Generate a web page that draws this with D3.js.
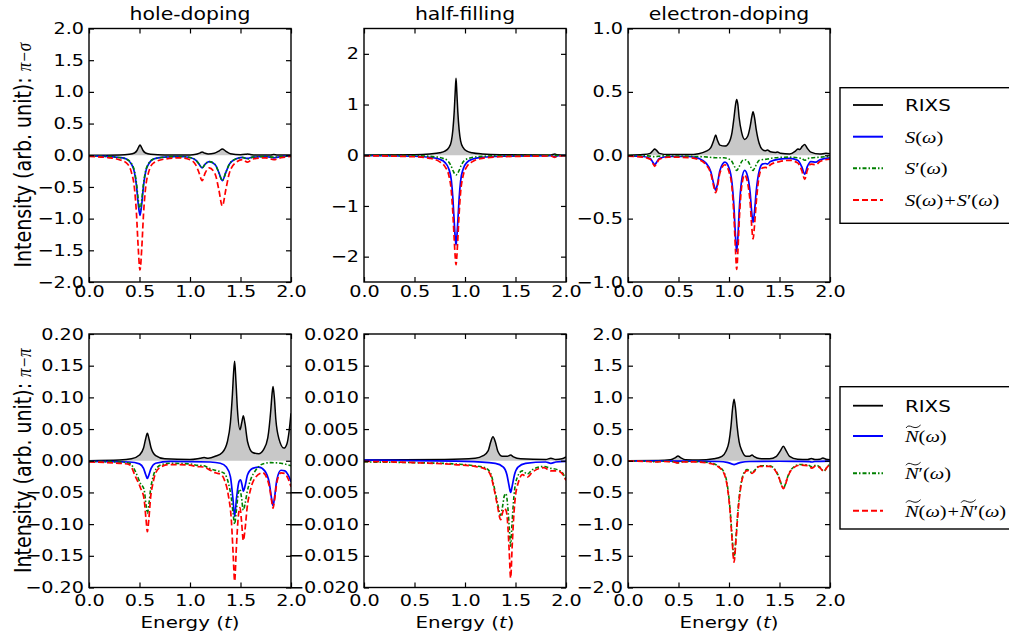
<!DOCTYPE html>
<html>
<head>
<meta charset="utf-8">
<script src="https://cdn.jsdelivr.net/npm/d3@7"></script>
<style>
body { margin: 0; background: #fff; }
</style>
</head>
<body>
<div id="chart"></div>
<script>
// ---- data ([energy, intensity]) ----
// pi-sigma, hole doping
var psHoleRixs = [[0,0],[0.3,0.005],[0.4,0.015],[0.45,0.035],[0.475,0.075],[0.49,0.125],[0.505,0.16],[0.52,0.125],[0.535,0.075],[0.56,0.035],[0.61,0.015],[0.75,0.005],[1.0,0.005],[1.06,0.015],[1.1,0.038],[1.12,0.05],[1.14,0.038],[1.18,0.02],[1.24,0.03],[1.29,0.07],[1.32,0.10],[1.35,0.07],[1.4,0.025],[1.5,0.008],[1.55,0.015],[1.57,0.02],[1.59,0.015],[1.65,0.005],[1.8,0.005],[1.83,0.01],[1.86,0.005],[2,0.002]];
var psHoleS = [[0,-0.01],[0.2,-0.02],[0.3,-0.035],[0.37,-0.06],[0.42,-0.14],[0.45,-0.27],[0.47,-0.48],[0.487,-0.76],[0.505,-0.95],[0.523,-0.76],[0.54,-0.48],[0.56,-0.27],[0.59,-0.14],[0.64,-0.06],[0.75,-0.03],[0.9,-0.02],[1.0,-0.035],[1.06,-0.08],[1.09,-0.14],[1.12,-0.2],[1.15,-0.14],[1.19,-0.1],[1.25,-0.15],[1.285,-0.27],[1.32,-0.4],[1.355,-0.27],[1.39,-0.14],[1.45,-0.06],[1.52,-0.035],[1.57,-0.05],[1.62,-0.03],[1.75,-0.02],[1.83,-0.04],[1.9,-0.02],[2,-0.01]];
var psHoleSp = [[0,-0.01],[0.2,-0.02],[0.3,-0.035],[0.37,-0.06],[0.42,-0.13],[0.45,-0.25],[0.47,-0.44],[0.487,-0.69],[0.505,-0.86],[0.523,-0.69],[0.54,-0.44],[0.56,-0.25],[0.59,-0.13],[0.64,-0.06],[0.75,-0.03],[0.9,-0.02],[1.0,-0.035],[1.06,-0.08],[1.09,-0.14],[1.12,-0.2],[1.15,-0.14],[1.19,-0.1],[1.25,-0.15],[1.285,-0.27],[1.32,-0.4],[1.355,-0.27],[1.39,-0.14],[1.45,-0.06],[1.52,-0.035],[1.57,-0.06],[1.62,-0.03],[1.75,-0.02],[1.83,-0.03],[1.9,-0.02],[2,-0.01]];
var psHoleSum = [[0,-0.02],[0.2,-0.04],[0.3,-0.07],[0.37,-0.12],[0.42,-0.27],[0.45,-0.52],[0.47,-0.92],[0.487,-1.45],[0.505,-1.81],[0.523,-1.45],[0.54,-0.92],[0.56,-0.52],[0.59,-0.27],[0.64,-0.12],[0.75,-0.06],[0.9,-0.04],[1.0,-0.07],[1.06,-0.16],[1.09,-0.28],[1.12,-0.4],[1.15,-0.28],[1.19,-0.2],[1.25,-0.3],[1.285,-0.54],[1.32,-0.8],[1.355,-0.54],[1.39,-0.28],[1.45,-0.12],[1.52,-0.07],[1.57,-0.11],[1.62,-0.06],[1.75,-0.04],[1.83,-0.07],[1.9,-0.04],[2,-0.02]];
// pi-sigma, half filling
var psHalfRixs = [[0,0.003],[0.5,0.01],[0.65,0.025],[0.75,0.05],[0.8,0.08],[0.84,0.15],[0.865,0.28],[0.88,0.5],[0.893,0.85],[0.903,1.25],[0.911,1.52],[0.919,1.25],[0.929,0.85],[0.942,0.5],[0.957,0.28],[0.982,0.15],[1.02,0.08],[1.07,0.05],[1.17,0.025],[1.35,0.01],[1.85,0.005],[1.89,0.025],[1.91,0.01],[2,0.003]];
var psHalfS = [[0,-0.005],[0.5,-0.02],[0.65,-0.04],[0.75,-0.08],[0.8,-0.14],[0.84,-0.27],[0.865,-0.5],[0.88,-0.85],[0.893,-1.3],[0.903,-1.62],[0.911,-1.77],[0.919,-1.62],[0.929,-1.3],[0.942,-0.85],[0.957,-0.5],[0.982,-0.27],[1.02,-0.14],[1.07,-0.08],[1.17,-0.04],[1.35,-0.02],[1.85,-0.01],[1.89,-0.03],[1.92,-0.01],[2,-0.005]];
var psHalfSp = [[0,-0.005],[0.5,-0.01],[0.7,-0.03],[0.78,-0.06],[0.83,-0.11],[0.86,-0.2],[0.885,-0.32],[0.911,-0.39],[0.937,-0.32],[0.962,-0.2],[0.99,-0.11],[1.04,-0.06],[1.12,-0.03],[1.35,-0.01],[2,-0.005]];
var psHalfSum = [[0,-0.01],[0.5,-0.03],[0.65,-0.06],[0.75,-0.13],[0.8,-0.22],[0.84,-0.4],[0.865,-0.72],[0.88,-1.15],[0.893,-1.65],[0.903,-2.0],[0.911,-2.16],[0.919,-2.0],[0.929,-1.65],[0.942,-1.15],[0.957,-0.72],[0.982,-0.4],[1.02,-0.22],[1.07,-0.13],[1.17,-0.06],[1.35,-0.03],[1.85,-0.015],[1.89,-0.04],[1.92,-0.015],[2,-0.01]];
// pi-sigma, electron doping
var psElecRixs = [[0,0],[0.15,0.005],[0.22,0.015],[0.25,0.04],[0.264,0.05],[0.28,0.04],[0.31,0.015],[0.4,0.005],[0.6,0.005],[0.7,0.012],[0.77,0.03],[0.82,0.06],[0.85,0.12],[0.868,0.16],[0.885,0.12],[0.91,0.08],[0.96,0.072],[1.0,0.1],[1.03,0.18],[1.05,0.3],[1.065,0.4],[1.076,0.44],[1.088,0.4],[1.1,0.3],[1.125,0.18],[1.155,0.125],[1.185,0.15],[1.21,0.23],[1.225,0.3],[1.238,0.344],[1.252,0.3],[1.27,0.2],[1.3,0.09],[1.33,0.045],[1.36,0.035],[1.38,0.042],[1.41,0.028],[1.46,0.022],[1.48,0.026],[1.51,0.015],[1.6,0.01],[1.66,0.035],[1.683,0.05],[1.7,0.045],[1.725,0.07],[1.75,0.085],[1.775,0.055],[1.81,0.025],[1.9,0.01],[1.96,0.015],[2,0.012]];
var psElecS = [[0,-0.005],[0.15,-0.01],[0.22,-0.025],[0.25,-0.06],[0.264,-0.075],[0.28,-0.06],[0.31,-0.025],[0.4,-0.01],[0.6,-0.01],[0.7,-0.025],[0.77,-0.06],[0.82,-0.13],[0.85,-0.23],[0.868,-0.275],[0.885,-0.23],[0.91,-0.12],[0.96,-0.055],[1.0,-0.1],[1.03,-0.22],[1.05,-0.42],[1.065,-0.65],[1.076,-0.76],[1.088,-0.65],[1.1,-0.45],[1.125,-0.2],[1.155,-0.12],[1.185,-0.17],[1.21,-0.3],[1.225,-0.45],[1.238,-0.53],[1.252,-0.45],[1.27,-0.28],[1.3,-0.12],[1.33,-0.07],[1.36,-0.065],[1.38,-0.07],[1.41,-0.05],[1.5,-0.03],[1.6,-0.025],[1.68,-0.04],[1.72,-0.09],[1.75,-0.15],[1.775,-0.09],[1.81,-0.05],[1.86,-0.055],[1.9,-0.035],[2,-0.02]];
var psElecSp = [[0,-0.003],[0.2,-0.005],[0.264,-0.012],[0.33,-0.005],[0.6,-0.008],[0.8,-0.015],[0.868,-0.02],[0.95,-0.02],[1.02,-0.04],[1.055,-0.09],[1.076,-0.12],[1.1,-0.09],[1.135,-0.04],[1.155,-0.035],[1.19,-0.05],[1.22,-0.1],[1.238,-0.12],[1.26,-0.09],[1.3,-0.04],[1.38,-0.03],[1.45,-0.02],[1.6,-0.015],[1.72,-0.025],[1.75,-0.04],[1.78,-0.025],[1.9,-0.015],[2,-0.01]];
var psElecSum = [[0,-0.008],[0.15,-0.015],[0.22,-0.032],[0.25,-0.07],[0.264,-0.087],[0.28,-0.07],[0.31,-0.032],[0.4,-0.015],[0.6,-0.018],[0.7,-0.035],[0.77,-0.073],[0.82,-0.145],[0.85,-0.25],[0.868,-0.295],[0.885,-0.25],[0.91,-0.14],[0.96,-0.075],[1.0,-0.13],[1.03,-0.26],[1.05,-0.5],[1.065,-0.76],[1.076,-0.9],[1.088,-0.76],[1.1,-0.54],[1.125,-0.25],[1.155,-0.155],[1.185,-0.22],[1.21,-0.38],[1.225,-0.56],[1.238,-0.66],[1.252,-0.56],[1.27,-0.37],[1.3,-0.16],[1.33,-0.1],[1.36,-0.095],[1.38,-0.1],[1.41,-0.075],[1.5,-0.05],[1.6,-0.04],[1.68,-0.06],[1.72,-0.12],[1.75,-0.19],[1.775,-0.12],[1.81,-0.07],[1.86,-0.075],[1.9,-0.05],[2,-0.03]];
// pi-pi, hole doping
var ppHoleRixs = [[0,0.0],[0.3,0.001],[0.42,0.003],[0.5,0.009],[0.54,0.02],[0.56,0.034],[0.578,0.0433],[0.595,0.034],[0.615,0.02],[0.66,0.008],[0.75,0.003],[1.0,0.002],[1.1,0.004],[1.14,0.005],[1.18,0.004],[1.25,0.007],[1.32,0.013],[1.37,0.03],[1.4,0.06],[1.42,0.105],[1.432,0.14],[1.442,0.157],[1.455,0.125],[1.47,0.08],[1.495,0.049],[1.512,0.06],[1.528,0.071],[1.545,0.058],[1.57,0.03],[1.62,0.013],[1.68,0.011],[1.73,0.018],[1.77,0.036],[1.8,0.08],[1.812,0.105],[1.822,0.117],[1.835,0.1],[1.85,0.065],[1.88,0.035],[1.93,0.02],[1.96,0.027],[1.98,0.045],[2.0,0.075]];
var ppHoleN = [[0,-0.001],[0.4,-0.002],[0.5,-0.005],[0.54,-0.012],[0.562,-0.022],[0.578,-0.028],[0.594,-0.022],[0.615,-0.012],[0.66,-0.004],[0.8,-0.001],[1.2,-0.002],[1.3,-0.004],[1.36,-0.01],[1.4,-0.025],[1.425,-0.06],[1.442,-0.088],[1.46,-0.06],[1.485,-0.033],[1.5,-0.03],[1.515,-0.038],[1.528,-0.048],[1.545,-0.04],[1.57,-0.022],[1.62,-0.012],[1.68,-0.01],[1.74,-0.016],[1.785,-0.035],[1.808,-0.06],[1.822,-0.071],[1.837,-0.058],[1.86,-0.03],[1.9,-0.015],[1.94,-0.016],[1.97,-0.022],[2.0,-0.033]];
var ppHoleNp = [[0,-0.001],[0.3,-0.002],[0.4,-0.004],[0.46,-0.017],[0.51,-0.036],[0.545,-0.045],[0.565,-0.07],[0.578,-0.083],[0.592,-0.07],[0.61,-0.045],[0.635,-0.025],[0.66,-0.014],[0.72,-0.006],[0.8,-0.004],[1.0,-0.005],[1.06,-0.007],[1.14,-0.008],[1.19,-0.012],[1.25,-0.015],[1.3,-0.017],[1.34,-0.02],[1.38,-0.035],[1.41,-0.06],[1.428,-0.085],[1.442,-0.1],[1.458,-0.08],[1.48,-0.05],[1.495,-0.045],[1.51,-0.058],[1.528,-0.078],[1.545,-0.068],[1.565,-0.05],[1.6,-0.03],[1.65,-0.015],[1.72,-0.005],[1.8,-0.003],[1.9,-0.004],[2.0,-0.008]];
var ppHoleSum = [[0,-0.002],[0.3,-0.004],[0.4,-0.006],[0.46,-0.025],[0.51,-0.043],[0.545,-0.06],[0.565,-0.093],[0.578,-0.112],[0.592,-0.093],[0.61,-0.058],[0.635,-0.034],[0.66,-0.019],[0.72,-0.009],[0.8,-0.006],[1.0,-0.007],[1.06,-0.009],[1.14,-0.01],[1.19,-0.014],[1.25,-0.019],[1.3,-0.021],[1.34,-0.03],[1.38,-0.055],[1.41,-0.095],[1.428,-0.15],[1.442,-0.19],[1.458,-0.14],[1.48,-0.085],[1.495,-0.074],[1.51,-0.095],[1.528,-0.126],[1.545,-0.108],[1.565,-0.075],[1.6,-0.045],[1.65,-0.026],[1.72,-0.019],[1.785,-0.04],[1.808,-0.063],[1.822,-0.075],[1.837,-0.062],[1.86,-0.034],[1.9,-0.019],[1.94,-0.02],[1.97,-0.028],[2.0,-0.041]];
// pi-pi, half filling
var ppHalfRixs = [[0,0.0001],[0.8,0.0002],[1.1,0.0004],[1.18,0.0008],[1.23,0.0016],[1.255,0.003],[1.277,0.0038],[1.3,0.003],[1.325,0.0015],[1.37,0.0007],[1.42,0.0007],[1.452,0.0009],[1.48,0.0006],[1.55,0.0003],[1.8,0.0002],[1.85,0.0004],[1.9,0.0002],[1.96,0.0003],[2.0,0.0006]];
var ppHalfN = [[0,0.0001],[1.0,-0.0001],[1.3,-0.0004],[1.38,-0.001],[1.415,-0.0022],[1.437,-0.004],[1.452,-0.005],[1.467,-0.004],[1.49,-0.0022],[1.525,-0.001],[1.6,-0.0004],[1.8,-0.0002],[1.85,-0.0004],[1.9,-0.0002],[2.0,-0.0001]];
var ppHalfNp = [[0,-0.0002],[0.5,-0.0003],[0.9,-0.0005],[1.1,-0.0008],[1.2,-0.0011],[1.254,-0.002],[1.287,-0.004],[1.32,-0.0065],[1.353,-0.0086],[1.372,-0.0072],[1.39,-0.0055],[1.405,-0.0052],[1.425,-0.0075],[1.44,-0.011],[1.452,-0.0135],[1.465,-0.01],[1.485,-0.0055],[1.518,-0.0026],[1.568,-0.0016],[1.617,-0.0021],[1.667,-0.0014],[1.78,-0.0009],[1.85,-0.0012],[1.914,-0.0014],[1.96,-0.0018],[2.0,-0.003]];
var ppHalfSum = [[0,-0.0001],[0.5,-0.0003],[0.9,-0.0006],[1.1,-0.0009],[1.2,-0.0013],[1.254,-0.0023],[1.287,-0.0044],[1.32,-0.007],[1.353,-0.0093],[1.372,-0.0082],[1.39,-0.0075],[1.405,-0.0078],[1.415,-0.0085],[1.425,-0.0105],[1.437,-0.014],[1.452,-0.0185],[1.467,-0.0135],[1.485,-0.0082],[1.5,-0.0055],[1.525,-0.0036],[1.568,-0.0022],[1.617,-0.0026],[1.667,-0.0018],[1.78,-0.0011],[1.85,-0.0016],[1.914,-0.0016],[1.96,-0.002],[2.0,-0.0031]];
// pi-pi, electron doping
var ppElecRixs = [[0,0.0],[0.3,0.003],[0.42,0.015],[0.47,0.05],[0.495,0.075],[0.52,0.05],[0.57,0.015],[0.7,0.01],[0.85,0.03],[0.93,0.07],[0.97,0.15],[1.0,0.3],[1.02,0.55],[1.035,0.82],[1.05,0.97],[1.065,0.82],[1.08,0.55],[1.1,0.3],[1.13,0.15],[1.17,0.07],[1.205,0.07],[1.228,0.09],[1.25,0.065],[1.3,0.035],[1.4,0.03],[1.47,0.07],[1.51,0.16],[1.538,0.23],[1.565,0.16],[1.6,0.07],[1.68,0.025],[1.78,0.02],[1.815,0.035],[1.85,0.02],[1.9,0.025],[1.93,0.045],[1.96,0.025],[2.0,0.015]];
var ppElecN = [[0,-0.003],[0.6,-0.005],[0.9,-0.012],[0.98,-0.025],[1.02,-0.045],[1.05,-0.06],[1.08,-0.045],[1.12,-0.025],[1.2,-0.012],[1.5,-0.008],[1.7,-0.01],[1.8,-0.015],[1.82,-0.02],[1.85,-0.012],[2.0,-0.006]];
var ppElecNp = [[0,-0.002],[0.2,-0.008],[0.27,-0.015],[0.35,-0.008],[0.45,-0.015],[0.495,-0.03],[0.54,-0.015],[0.65,-0.012],[0.8,-0.03],[0.88,-0.07],[0.95,-0.18],[0.985,-0.4],[1.01,-0.75],[1.033,-1.25],[1.05,-1.54],[1.067,-1.25],[1.09,-0.75],[1.115,-0.4],[1.145,-0.2],[1.18,-0.14],[1.21,-0.17],[1.228,-0.19],[1.25,-0.16],[1.3,-0.08],[1.4,-0.08],[1.46,-0.15],[1.5,-0.28],[1.52,-0.38],[1.538,-0.43],[1.556,-0.38],[1.575,-0.28],[1.62,-0.13],[1.7,-0.06],[1.78,-0.065],[1.82,-0.095],[1.86,-0.07],[1.9,-0.1],[1.94,-0.165],[1.97,-0.1],[2.0,-0.05]];
var ppElecSum = [[0,-0.005],[0.2,-0.012],[0.27,-0.02],[0.35,-0.012],[0.45,-0.02],[0.495,-0.035],[0.54,-0.02],[0.65,-0.017],[0.8,-0.04],[0.88,-0.08],[0.95,-0.2],[0.985,-0.43],[1.01,-0.79],[1.033,-1.3],[1.05,-1.6],[1.067,-1.3],[1.09,-0.8],[1.115,-0.43],[1.145,-0.22],[1.18,-0.155],[1.21,-0.18],[1.228,-0.2],[1.25,-0.17],[1.3,-0.09],[1.4,-0.09],[1.46,-0.16],[1.5,-0.29],[1.52,-0.39],[1.538,-0.44],[1.556,-0.39],[1.575,-0.29],[1.62,-0.14],[1.7,-0.07],[1.78,-0.078],[1.82,-0.115],[1.86,-0.082],[1.9,-0.11],[1.94,-0.17],[1.97,-0.105],[2.0,-0.056]];

// ticks and labels
var energyTicks = [0, 0.5, 1.0, 1.5, 2.0];
var yTicksHoleSig = [-2, -1.5, -1, -0.5, 0, 0.5, 1, 1.5, 2];
var yTicksHalfSig = [-2, -1, 0, 1, 2];
var yTicksElecSig = [-1, -0.5, 0, 0.5, 1];
var yTicksHolePi = [-0.2, -0.15, -0.1, -0.05, 0, 0.05, 0.1, 0.15, 0.2];
var yTicksHalfPi = [-0.02, -0.015, -0.01, -0.005, 0, 0.005, 0.01, 0.015, 0.02];
var yTicksElecPi = [-2, -1.5, -1, -0.5, 0, 0.5, 1, 1.5, 2];
var titles = ["hole-doping", "half-filling", "electron-doping"];
var yLabelPol = ["\u03c0\u2212\u03c3", "\u03c0\u2212\u03c0"];
// legend labels: [text, italic, tilde]
var legendTop = [[["RIXS"]], [["S",1],["("],["\u03c9",1],[")"]], [["S",1],["\u2032"],["("],["\u03c9",1],[")"]], [["S",1],["("],["\u03c9",1],[")"],["+"],["S",1],["\u2032"],["("],["\u03c9",1],[")"]]];
var legendBot = [[["RIXS"]], [["N",1,1],["("],["\u03c9",1],[")"]], [["N",1,1],["\u2032"],["("],["\u03c9",1],[")"]], [["N",1,1],["("],["\u03c9",1],[")"],["+"],["N",1,1],["\u2032"],["("],["\u03c9",1],[")"]]];

var panels = [
    {col: 0, row: 0, dom: [-2, 2], ticks: yTicksHoleSig, fmt: ".1f", lines: [psHoleRixs, psHoleS, psHoleSp, psHoleSum]},
    {col: 1, row: 0, dom: [-2.5, 2.5], ticks: yTicksHalfSig, fmt: ".0f", lines: [psHalfRixs, psHalfS, psHalfSp, psHalfSum]},
    {col: 2, row: 0, dom: [-1, 1], ticks: yTicksElecSig, fmt: ".1f", lines: [psElecRixs, psElecS, psElecSp, psElecSum]},
    {col: 0, row: 1, dom: [-0.2, 0.2], ticks: yTicksHolePi, fmt: ".2f", lines: [ppHoleRixs, ppHoleN, ppHoleNp, ppHoleSum]},
    {col: 1, row: 1, dom: [-0.02, 0.02], ticks: yTicksHalfPi, fmt: ".3f", lines: [ppHalfRixs, ppHalfN, ppHalfNp, ppHalfSum]},
    {col: 2, row: 1, dom: [-2, 2], ticks: yTicksElecPi, fmt: ".1f", lines: [ppElecRixs, ppElecN, ppElecNp, ppElecSum]}
];

var W = 1009, H = 642;
var SX = 1.2;   // the figure is stretched sideways
var colX = [89, 364, 628], pw = 202;
var rowY = [28.5, 334], ph = 253.5;
var styles = [
    {c: "#000000", dash: null, w: 1.5},
    {c: "#0000ff", dash: null, w: 1.7},
    {c: "#008000", dash: "4,2,1.5,2", w: 1.6},
    {c: "#ff0000", dash: "6,3", w: 1.7}
];

var svg = d3.select("#chart").append("svg")
    .attr("width", W).attr("height", H)
    .style("font-family", "'DejaVu Sans', sans-serif");

function put(sel, x, y, s, anchor, size) {
    return sel.append("text")
        .attr("transform", "translate(" + x + "," + y + ") scale(" + SX + ",1)")
        .attr("text-anchor", anchor || "start")
        .style("font-size", (size || 16) + "px")
        .text(s);
}

panels.forEach(function(p, i) {
    var x0 = colX[p.col], y0 = rowY[p.row];
    var x = d3.scaleLinear().domain([0, 2]).range([x0, x0 + pw]);
    var y = d3.scaleLinear().domain(p.dom).range([y0 + ph, y0]);

    svg.append("clipPath").attr("id", "clip" + i)
        .append("rect").attr("x", x0).attr("y", y0).attr("width", pw).attr("height", ph);
    var g = svg.append("g").attr("clip-path", "url(#clip" + i + ")");

    var line = d3.line().x(function(d){ return x(d[0]); }).y(function(d){ return y(d[1]); }).curve(d3.curveMonotoneX);
    var area = d3.area().x(function(d){ return x(d[0]); }).y0(y(0)).y1(function(d){ return y(d[1]); }).curve(d3.curveMonotoneX);

    g.append("path").attr("d", area(p.lines[0])).attr("fill", "#c8c8c8");
    styles.forEach(function(s, k) {
        g.append("path").attr("d", line(p.lines[k]))
            .attr("fill", "none").attr("stroke", s.c).attr("stroke-width", s.w)
            .attr("stroke-dasharray", s.dash);
    });

    // axes, ticks pointing in on all four sides
    var fmt = d3.format(p.fmt);
    var ax = [
        [d3.axisLeft(y).tickValues(p.ticks).tickFormat(fmt), x0, 0],
        [d3.axisRight(y).tickValues(p.ticks).tickFormat(""), x0 + pw, 0],
        [d3.axisBottom(x).tickValues(energyTicks).tickFormat(d3.format(".1f")), 0, y0 + ph],
        [d3.axisTop(x).tickValues(energyTicks).tickFormat(""), 0, y0]
    ];
    ax.forEach(function(a, k) {
        var pad = k == 2 ? (p.row == 0 ? 4 : 7) : 5;
        var ag = svg.append("g").attr("transform", "translate(" + a[1] + "," + a[2] + ")")
            .call(a[0].tickSizeInner(-5).tickSizeOuter(0).tickPadding(pad));
        ag.select(".domain").remove();
        ag.selectAll("line").attr("stroke", "#000").attr("stroke-width", 1.2);
        ag.attr("font-family", "'DejaVu Sans', sans-serif").attr("font-size", 16);
        ag.selectAll("text").attr("fill", "#000")
            .attr("x", function(){ return (+d3.select(this).attr("x") || 0) / SX; })
            .attr("transform", "scale(" + SX + ",1)");
    });

    svg.append("rect").attr("x", x0).attr("y", y0).attr("width", pw).attr("height", ph)
        .attr("fill", "none").attr("stroke", "#000").attr("stroke-width", 1.4);

    if (p.row == 0) put(svg, x0 + pw / 2, 20, titles[p.col], "middle", 17);
    if (p.row == 1) {
        var t = put(svg, x0 + pw / 2, 628, "", "middle", 16.5);
        t.append("tspan").text("Energy (");
        t.append("tspan").style("font-style", "italic").text("t");
        t.append("tspan").text(")");
    }
    if (p.col == 0) {
        var yl = svg.append("text")
            .attr("transform", "translate(31," + (y0 + ph / 2) + ") rotate(-90) scale(1," + SX + ")")
            .attr("text-anchor", "middle")
            .style("font-size", "19px");
        yl.append("tspan").text("Intensity (arb. unit): ");
        yl.append("tspan").style("font-family", "'Liberation Serif', serif").style("font-style", "italic")
            .style("font-size", "17px").text(yLabelPol[p.row]);
    }
});

// legends
function legend(top, bottom, rows, rowsY) {
    svg.append("rect").attr("x", 840).attr("y", top).attr("width", 200).attr("height", bottom - top)
        .attr("fill", "#fff").attr("stroke", "#000").attr("stroke-width", 1.4);
    rows.forEach(function(parts, k) {
        var s = styles[k], ry = rowsY[k];
        svg.append("line").attr("x1", 853).attr("x2", 883).attr("y1", ry).attr("y2", ry)
            .attr("stroke", s.c).attr("stroke-width", s.w + 0.3).attr("stroke-dasharray", s.dash);
        var cx = 905;
        parts.forEach(function(pt) {
            var isMath = k > 0;
            var t = put(svg, cx, ry + 6, pt[0], "start", isMath ? 17 : 16.5);
            if (isMath) t.style("font-family", "'Liberation Serif', serif");
            if (pt[1]) t.style("font-style", "italic");
            var w = t.node().getComputedTextLength() * SX;
            if (pt[0] == "+") { t.attr("transform", "translate(" + (cx + 1) + "," + (ry + 6) + ") scale(" + SX + ",1)"); w += 2; }
            if (pt[2]) {
                var ty = ry - 9;
                svg.append("path")
                    .attr("d", "M" + (cx + 1) + "," + (ty + 1) + " C" + (cx + w * 0.35) + "," + (ty - 5) + " " + (cx + w * 0.65) + "," + (ty + 5) + " " + (cx + w + 2) + "," + (ty - 2))
                    .attr("fill", "none").attr("stroke", "#000").attr("stroke-width", 0.9);
            }
            cx += w;
        });
    });
}
legend(87.7, 223.3, legendTop, [105, 136.7, 168.3, 200]);
legend(386.7, 529, legendBot, [405.7, 436, 473.3, 510.7]);
</script>
</body>
</html>
